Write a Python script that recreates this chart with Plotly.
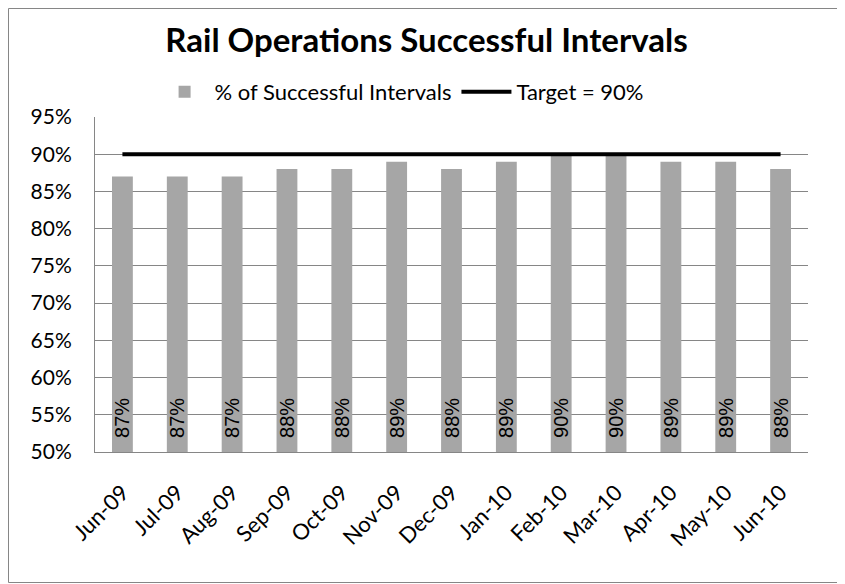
import plotly.graph_objects as go

# ---------------------------------------------------------------------------
# Data
# ---------------------------------------------------------------------------
months = ["Jun-09", "Jul-09", "Aug-09", "Sep-09", "Oct-09", "Nov-09", "Dec-09",
          "Jan-10", "Feb-10", "Mar-10", "Apr-10", "May-10", "Jun-10"]
success_pct = [0.87, 0.87, 0.87, 0.88, 0.88, 0.89, 0.88,
               0.89, 0.90, 0.90, 0.89, 0.89, 0.88]
target_pct = [0.90] * len(months)

AXIS_MIN = 0.50
FONT = "Lato"
PAD = "\u00a0\u00a0"   # nudges the labels up off the base, like Excel

# page body has an 8px default margin, so the figure is sized/margined for that
W, H = 837, 576
ML, MT, MR, MB = 87, 109, 37, 132
PW, PH = W - ML - MR, H - MT - MB

fig = go.Figure()

# bars start at the axis minimum so "inside base" labels stay visible
fig.add_trace(go.Bar(
    x=months,
    y=[v - AXIS_MIN for v in success_pct],
    base=AXIS_MIN,
    name="% of Successful Intervals",
    marker=dict(color="#a6a6a6", line=dict(width=0)),
    width=0.38,
    text=[PAD + f"{v:.0%}" for v in success_pct],
    textposition="inside",
    insidetextanchor="start",
    textangle=-90,
    constraintext="none",
    textfont=dict(family="Liberation Sans", size=20, color="#000000"),
    customdata=success_pct,
    hovertemplate="%{x}: %{customdata:.0%}<extra></extra>",
))

fig.add_trace(go.Scatter(
    x=months, y=target_pct,
    name="Target = 90%",
    mode="lines",
    line=dict(color="#000000", width=4),
))

# outer chart border, drawn at the figure edges
fig.add_shape(type="rect", xref="paper", yref="paper",
              x0=(0.5 - ML) / PW, x1=(W - 1.5 - ML) / PW,
              y0=(MT + PH - (H - 1.5)) / PH, y1=(MT + PH - 0.5) / PH,
              line=dict(color="#868686", width=1), layer="below")

fig.update_layout(
    width=W, height=H,
    margin=dict(l=ML, r=MR, t=MT, b=MB),
    paper_bgcolor="white", plot_bgcolor="white",
    font=dict(family=FONT, color="#000000"),
    title=dict(text="<b>Rail Operations Successful Intervals</b>",
               x=0.5, xanchor="center", y=1 - 32 / H, yanchor="middle",
               font=dict(family=FONT, size=33, color="#000000")),
    legend=dict(orientation="h", x=0.43, xanchor="center", y=1.075, yanchor="middle",
                font=dict(family=FONT, size=22), traceorder="normal",
                itemwidth=50),
    showlegend=True,
)

fig.update_yaxes(range=[AXIS_MIN, 0.95], dtick=0.05, tickformat=".0%",
                 showgrid=True, gridcolor="#868686", gridwidth=1,
                 showline=True, linecolor="#868686", linewidth=1,
                 ticks="", tickfont=dict(family=FONT, size=21), zeroline=False,
                 ticklabelstandoff=18)
fig.update_xaxes(showline=True, linecolor="#868686", linewidth=1,
                 tickangle=-45, ticks="", tickfont=dict(family=FONT, size=22),
                 ticklabelstandoff=18)

fig.write_html("out.html")
